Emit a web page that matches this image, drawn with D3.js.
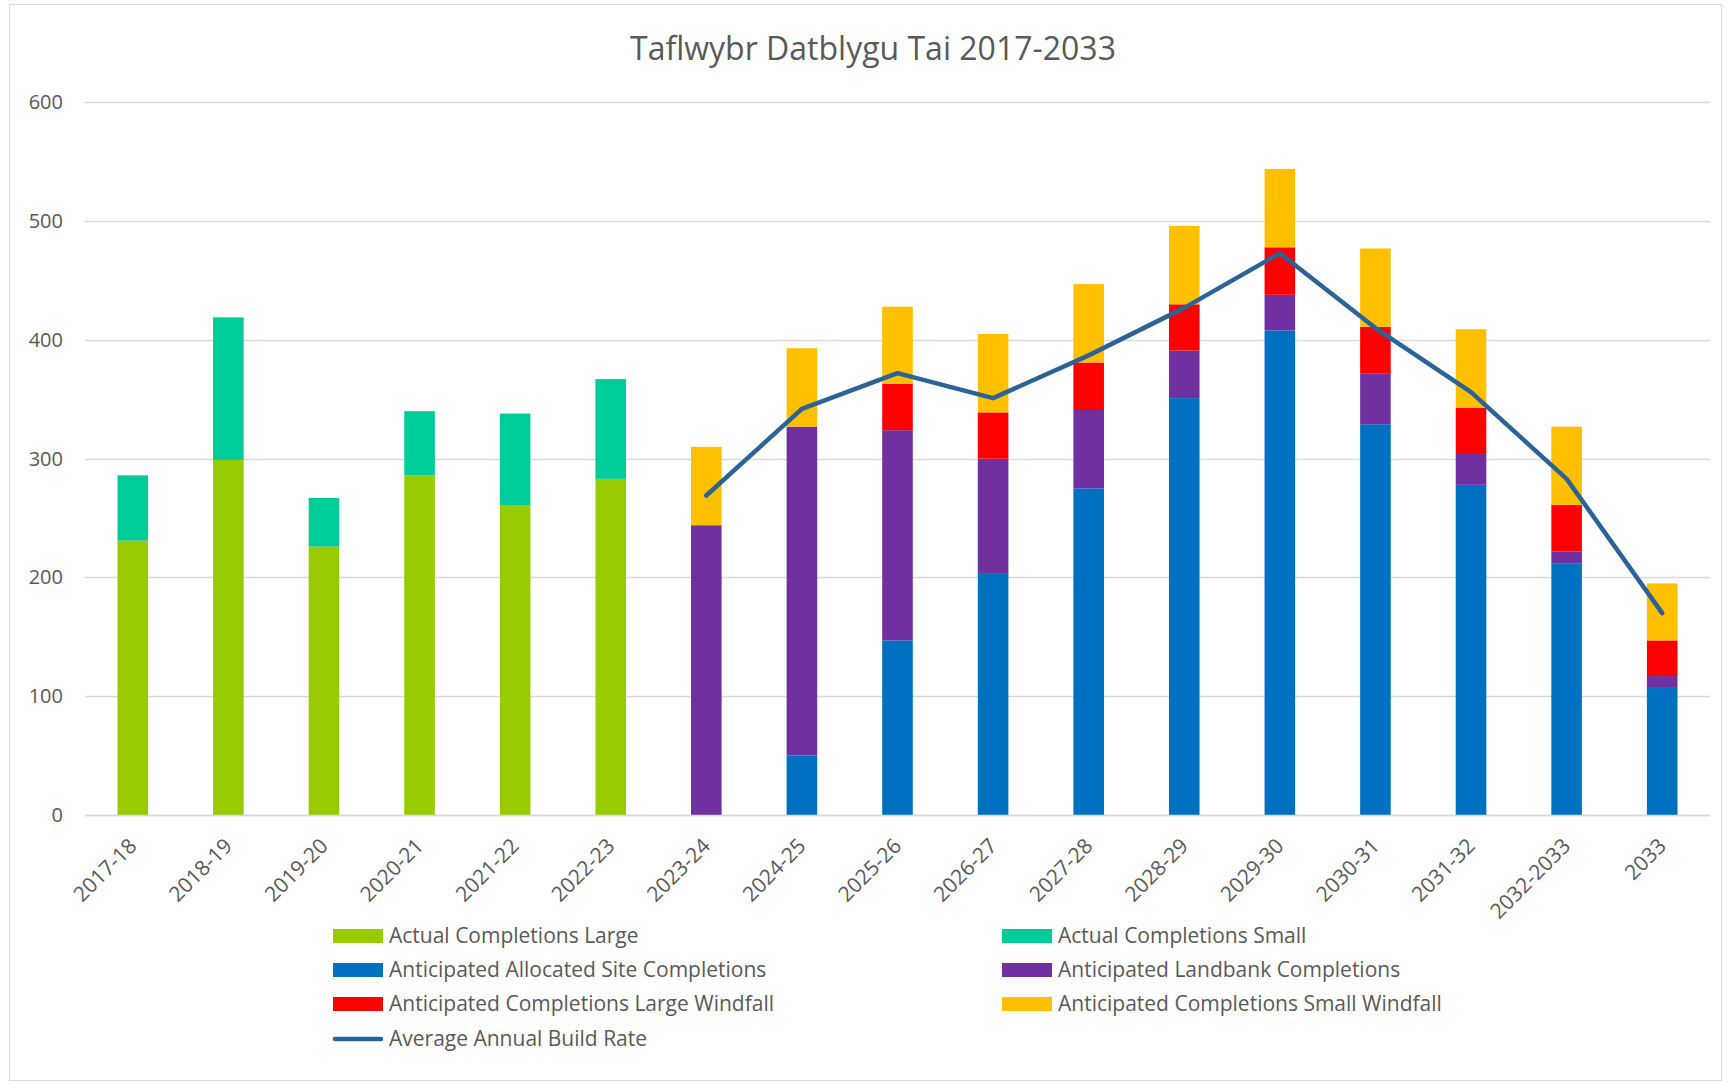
<!DOCTYPE html>
<html>
<head>
<meta charset="utf-8">
<script src="https://cdn.jsdelivr.net/npm/d3@7"></script>
<style>
    body { margin: 0; background: #fff; }
    svg { display: block; font-family: 'Open Sans', sans-serif; }
</style>
</head>
<body>
<div id="chart"></div>
<script>
let years = ['2017-18', '2018-19', '2019-20', '2020-21', '2021-22', '2022-23', '2023-24', '2024-25',
    '2025-26', '2026-27', '2027-28', '2028-29', '2029-30', '2030-31', '2031-32', '2032-2033', '2033'];

let actualLarge = [231, 299, 226, 286, 261, 283, 0, 0, 0, 0, 0, 0, 0, 0, 0, 0, 0];
let actualSmall = [55, 120, 41, 54, 77, 84, 0, 0, 0, 0, 0, 0, 0, 0, 0, 0, 0];
let allocatedSite = [0, 0, 0, 0, 0, 0, 0, 50, 147, 203, 275, 351, 408, 329, 278, 212, 107];
let landbank = [0, 0, 0, 0, 0, 0, 244, 277, 177, 97, 66, 40, 30, 43, 26, 10, 10];
let largeWindfall = [0, 0, 0, 0, 0, 0, 0, 0, 39, 39, 40, 39, 40, 39, 39, 39, 30];
let smallWindfall = [0, 0, 0, 0, 0, 0, 66, 66, 65, 66, 66, 66, 66, 66, 66, 66, 48];
let buildRate = [null, null, null, null, null, null, 269, 342, 372, 351, 387, 427, 473, 410, 356, 283, 170];

let yTicks = [0, 100, 200, 300, 400, 500, 600];

let seriesNames = ['Actual Completions Large', 'Actual Completions Small', 'Anticipated Allocated Site Completions',
    'Anticipated Landbank Completions', 'Anticipated Completions Large Windfall', 'Anticipated Completions Small Windfall'];
let seriesColors = ['#99CC00', '#00CC99', '#0070C0', '#7030A0', '#FF0000', '#FFC000'];
let lineName = 'Average Annual Build Rate';
let lineColor = '#2C6396';

let width = 1727, height = 1085;
let textColor = '#595959';

// table for d3.stack
let seriesData = [actualLarge, actualSmall, allocatedSite, landbank, largeWindfall, smallWindfall];
let table = years.map(function(y, i) {
    let row = { year: y };
    seriesNames.forEach(function(name, k) { row[name] = seriesData[k][i]; });
    return row;
});

let svg = d3.select('#chart').append('svg')
    .attr('width', width)
    .attr('height', height);

svg.append('rect')
    .attr('x', 9.5).attr('y', 4.5)
    .attr('width', 1712).attr('height', 1076)
    .attr('fill', '#fff')
    .attr('stroke', '#D9D9D9');

svg.append('text')
    .attr('x', 873).attr('y', 60)
    .attr('text-anchor', 'middle')
    .attr('font-size', 32)
    .attr('fill', textColor)
    .text('Taflwybr Datblygu Tai 2017-2033');

let xScale = d3.scaleBand()
    .domain(years)
    .range([85, 1710])
    .paddingInner(0.68)
    .paddingOuter(0.34);

let yScale = d3.scaleLinear()
    .domain([0, 600])
    .range([815, 102.4]);

// gridlines
svg.append('g')
    .selectAll('line')
    .data(yTicks)
    .enter()
    .append('line')
        .attr('x1', 85).attr('x2', 1710)
        .attr('y1', function(d) { return Math.round(yScale(d)) + 0.5; })
        .attr('y2', function(d) { return Math.round(yScale(d)) + 0.5; })
        .attr('stroke', '#D9D9D9')
        .attr('stroke-width', 1.5);

let yAxis = d3.axisLeft(yScale).tickValues(yTicks).tickSize(0).tickPadding(0);
let yAxisGroup = svg.append('g')
    .attr('transform', 'translate(63,0)')
    .call(yAxis);
yAxisGroup.select('.domain').remove();
yAxisGroup.selectAll('text')
    .attr('font-size', 20)
    .attr('font-family', "'Open Sans', sans-serif")
    .attr('fill', textColor);

let stack = d3.stack().keys(seriesNames);
let layers = stack(table);

svg.append('g')
    .selectAll('g')
    .data(layers)
    .enter()
    .append('g')
        .attr('fill', function(d, i) { return seriesColors[i]; })
    .selectAll('rect')
    .data(function(d) { return d; })
    .enter()
    .append('rect')
        .attr('x', function(d) { return xScale(d.data.year); })
        .attr('width', xScale.bandwidth())
        .attr('y', function(d) { return yScale(d[1]); })
        .attr('height', function(d) { return yScale(d[0]) - yScale(d[1]); });

// x axis line on top of bars
svg.append('line')
    .attr('x1', 85).attr('x2', 1710)
    .attr('y1', 815.5).attr('y2', 815.5)
    .attr('stroke', '#D9D9D9')
    .attr('stroke-width', 1.5);

let xAxis = d3.axisBottom(xScale).tickSize(0).tickPadding(0);
let xAxisGroup = svg.append('g')
    .attr('transform', 'translate(0,815)')
    .call(xAxis);
xAxisGroup.select('.domain').remove();
xAxisGroup.selectAll('text')
    .attr('font-size', 21)
    .attr('font-family', "'Open Sans', sans-serif")
    .attr('fill', textColor)
    .attr('text-anchor', 'end')
    .attr('y', 0)
    .attr('dy', '0.35em')
    .attr('transform', 'translate(0,27) rotate(-45)');

let line = d3.line()
    .defined(function(d) { return d != null; })
    .x(function(d, i) { return xScale(years[i]) + xScale.bandwidth() / 2; })
    .y(function(d) { return yScale(d); });

svg.append('path')
    .datum(buildRate)
    .attr('fill', 'none')
    .attr('stroke', lineColor)
    .attr('stroke-width', 4.5)
    .attr('stroke-linejoin', 'round')
    .attr('stroke-linecap', 'round')
    .attr('d', line);

// legend
let legendCols = [333, 1002];
let legendRows = [936, 970, 1004, 1039];
let legend = svg.append('g');

seriesNames.forEach(function(name, i) {
    let x = legendCols[i % 2], y = legendRows[Math.floor(i / 2)];
    legend.append('rect')
        .attr('x', x).attr('y', y - 7)
        .attr('width', 50).attr('height', 14)
        .attr('fill', seriesColors[i]);
    legend.append('text')
        .attr('x', x + 56).attr('y', y)
        .attr('dy', '0.35em')
        .attr('font-size', 21)
        .attr('fill', textColor)
        .text(name);
});

legend.append('line')
    .attr('x1', legendCols[0] + 2).attr('x2', legendCols[0] + 48)
    .attr('y1', legendRows[3]).attr('y2', legendRows[3])
    .attr('stroke', lineColor)
    .attr('stroke-width', 4.5)
    .attr('stroke-linecap', 'round');
legend.append('text')
    .attr('x', legendCols[0] + 56).attr('y', legendRows[3])
    .attr('dy', '0.35em')
    .attr('font-size', 21)
    .attr('fill', textColor)
    .text(lineName);
</script>
</body>
</html>
